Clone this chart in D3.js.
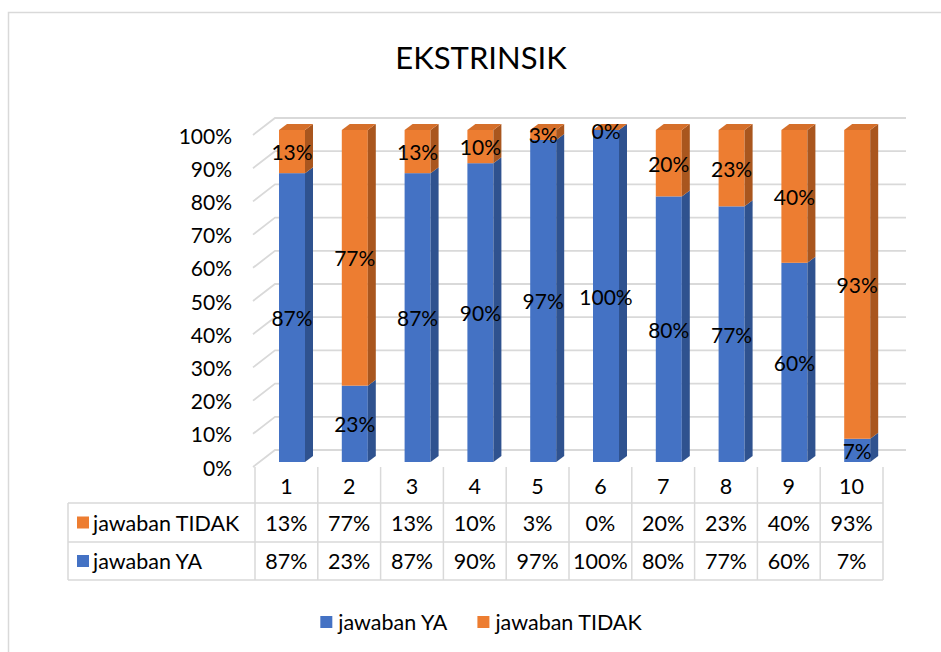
<!DOCTYPE html>
<meta charset="utf-8">
<title>EKSTRINSIK</title>
<style>
body {
  margin: 0;
  background: #fff;
}
svg text {
  font-family: Lato, "Open Sans", sans-serif;
  fill: #000;
}
.title {
  font-size: 31px;
  text-anchor: middle;
}
.tick-label, .data-label {
  font-size: 21px;
}
.cell, .row-label, .legend-label {
  font-size: 21.5px;
}
</style>
<body>
<svg width="941" height="652"></svg>

<script src="https://cdn.jsdelivr.net/npm/d3@7"></script>
<script>
// values
var categories = ["1", "2", "3", "4", "5", "6", "7", "8", "9", "10"];
var jawabanYA = [87, 23, 87, 90, 97, 100, 80, 77, 60, 7];
var jawabanTIDAK = [13, 77, 13, 10, 3, 0, 20, 23, 40, 93];
var yTicks = [0, 10, 20, 30, 40, 50, 60, 70, 80, 90, 100];
var seriesNames = ["jawaban YA", "jawaban TIDAK"];

var colors = {
  ya: { front: "#4472C4", side: "#2F528F", top: "#3E69B6" },
  tidak: { front: "#ED7D31", side: "#A9561E", top: "#D56F2A" }
};
var gridColor = "#d9d9d9";

var svg = d3.select("svg"),
    width = +svg.attr("width"),
    height = +svg.attr("height");

// chart area border (only left + top visible in the picture)
svg.append("path")
    .attr("d", "M8.5," + height + "V12.5H" + width)
    .attr("fill", "none")
    .attr("stroke", gridColor)
    .attr("stroke-width", 1.5);

svg.append("text")
    .attr("class", "title")
    .attr("x", 481)
    .attr("y", 57)
    .attr("dominant-baseline", "central")
    .text("EKSTRINSIK");

// table columns double as the category scale
var x = d3.scaleBand()
    .domain(categories)
    .range([255, 883]);

// front plane (axis labels), bar plane, back wall
var yFront = d3.scaleLinear().domain([0, 100]).range([467, 135]);
var yBar = d3.scaleLinear().domain([0, 100]).range([462, 130]);
var wallDx = 22, wallDy = -17;
var barOffset = 24, barWidth = 26, depthDx = 8, depthDy = -6;

//back wall gridlines + left wall diagonals
var grid = svg.append("g").attr("class", "grid")
    .attr("stroke", gridColor)
    .attr("stroke-width", 1.8)
    .attr("fill", "none");

grid.selectAll("path")
  .data(yTicks)
  .enter().append("path")
    .attr("d", function(d) {
      var y0 = yFront(d);
      return "M253," + y0 + "L" + (253 + wallDx) + "," + (y0 + wallDy) + "H906";
    });

// y axis labels
svg.append("g").selectAll("text")
  .data(yTicks)
  .enter().append("text")
    .attr("class", "tick-label")
    .attr("x", 232)
    .attr("y", function(d) { return yFront(d); })
    .attr("text-anchor", "end")
    .attr("dominant-baseline", "central")
    .text(function(d) { return d + "%"; });

// stacked 3d columns
var rows = categories.map(function(c, i) {
  return { cat: c, ya: jawabanYA[i], tidak: jawabanTIDAK[i] };
});
var stack = d3.stack().keys(["ya", "tidak"]);
var stacked = stack(rows);

var bars = svg.append("g").attr("class", "bars");

stacked.forEach(function(layer) {
  var key = layer.key;
  var g = bars.append("g");
  layer.forEach(function(seg) {
    var x0 = x(seg.data.cat) + barOffset,
        x1 = x0 + barWidth,
        yb = yBar(seg[0]),
        yt = yBar(seg[1]);
    if (seg[1] > seg[0]) {
      g.append("rect")
          .attr("x", x0).attr("y", yt)
          .attr("width", barWidth).attr("height", yb - yt)
          .attr("fill", colors[key].front);
      g.append("path")
          .attr("d", "M" + x1 + "," + yt + "L" + (x1 + depthDx) + "," + (yt + depthDy) +
                "L" + (x1 + depthDx) + "," + (yb + depthDy) + "L" + x1 + "," + yb + "Z")
          .attr("fill", colors[key].side);
    }
    if (key === "tidak") {
      g.append("path")
          .attr("d", "M" + x0 + "," + yt + "L" + (x0 + depthDx) + "," + (yt + depthDy) +
                "H" + (x1 + depthDx) + "L" + x1 + "," + yt + "Z")
          .attr("fill", colors[key].top);
    }
  });
});

// data labels
var labels = svg.append("g");
stacked.forEach(function(layer) {
  labels.selectAll(null)
    .data(layer)
    .enter().append("text")
      .attr("class", "data-label")
      .attr("x", function(d) { return x(d.data.cat) + barOffset + barWidth / 2; })
      .attr("y", function(d) { return yBar((d[0] + d[1]) / 2); })
      .attr("text-anchor", "middle")
      .attr("dominant-baseline", "central")
      .text(function(d) { return (d[1] - d[0]) + "%"; });
});

// data table
var tableLeft = 68,
    headerTop = 467,
    rowTop = [503, 542],
    rowBottom = 580,
    tableRight = x.range()[1];

var table = svg.append("g").attr("class", "table");
var lines = table.append("g")
    .attr("stroke", gridColor)
    .attr("stroke-width", 1.5);

// column separators
lines.selectAll(".col")
  .data(categories.concat(["end"]))
  .enter().append("line")
    .attr("x1", function(d) { return d === "end" ? tableRight : x(d); })
    .attr("x2", function(d) { return d === "end" ? tableRight : x(d); })
    .attr("y1", headerTop)
    .attr("y2", rowBottom);

lines.selectAll(".row")
  .data(rowTop.concat([rowBottom]))
  .enter().append("line")
    .attr("x1", tableLeft)
    .attr("x2", tableRight)
    .attr("y1", function(d) { return d; })
    .attr("y2", function(d) { return d; });

lines.append("line")
    .attr("x1", tableLeft).attr("x2", tableLeft)
    .attr("y1", rowTop[0]).attr("y2", rowBottom);

// header numbers
table.selectAll(".head")
  .data(categories)
  .enter().append("text")
    .attr("class", "cell")
    .attr("x", function(d) { return x(d) + x.bandwidth() / 2; })
    .attr("y", (headerTop + rowTop[0]) / 2 + 1)
    .attr("text-anchor", "middle")
    .attr("dominant-baseline", "central")
    .text(function(d) { return d; });

var tableRows = [
  { name: seriesNames[1], values: jawabanTIDAK, color: colors.tidak.front },
  { name: seriesNames[0], values: jawabanYA, color: colors.ya.front }
];

tableRows.forEach(function(r, ri) {
  var cy = (rowTop[ri] + (ri === 0 ? rowTop[1] : rowBottom)) / 2;
  table.append("rect")
      .attr("x", 77).attr("y", cy - 6)
      .attr("width", 12).attr("height", 12)
      .attr("fill", r.color);
  table.append("text")
      .attr("class", "row-label")
      .attr("x", 93)
      .attr("y", cy)
      .attr("dominant-baseline", "central")
      .text(r.name);
  table.selectAll(null)
    .data(r.values)
    .enter().append("text")
      .attr("class", "cell")
      .attr("x", function(d, i) { return x(categories[i]) + x.bandwidth() / 2; })
      .attr("y", cy)
      .attr("text-anchor", "middle")
      .attr("dominant-baseline", "central")
      .text(function(d) { return d + "%"; });
});

// bottom legend, centered
var legend = svg.append("g").attr("class", "legend");
var legendItems = [
  { name: seriesNames[0], color: colors.ya.front },
  { name: seriesNames[1], color: colors.tidak.front }
];
var lx = 0, ly = 622;
legendItems.forEach(function(d) {
  var g = legend.append("g");
  g.append("rect")
      .attr("x", 0).attr("y", ly - 6)
      .attr("width", 12).attr("height", 12)
      .attr("fill", d.color);
  var t = g.append("text")
      .attr("class", "legend-label")
      .attr("x", 18)
      .attr("y", ly)
      .attr("dominant-baseline", "central")
      .text(d.name);
  var w = 18 + t.node().getComputedTextLength();
  g.attr("transform", "translate(" + lx + ",0)");
  lx += w + 30;
});
var legendWidth = lx - 30;
legend.attr("transform", "translate(" + (481 - legendWidth / 2) + ",0)");
</script>
</body>
